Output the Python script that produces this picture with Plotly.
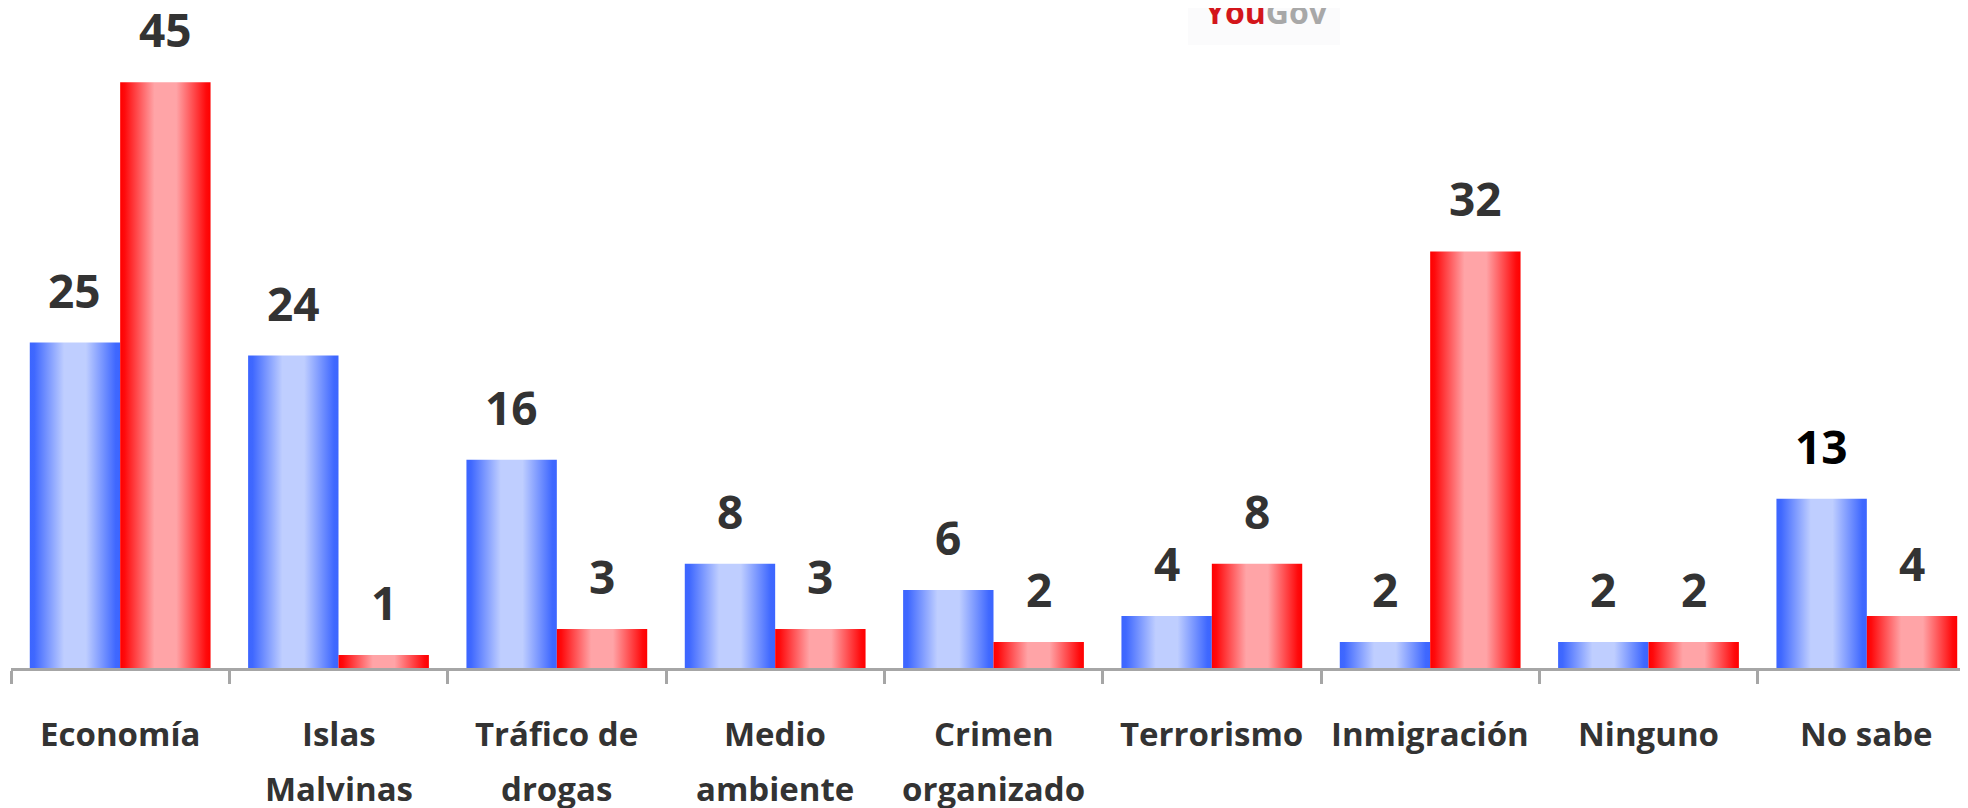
import plotly.graph_objects as go

# categorias y valores (%)
categorias = ["Economía", "Islas<br>Malvinas", "Tráfico de<br>drogas", "Medio<br>ambiente",
              "Crimen<br>organizado", "Terrorismo", "Inmigración", "Ninguno", "No sabe"]
argentina = [25, 24, 16, 8, 6, 4, 2, 2, 13]
reino_unido = [45, 1, 3, 3, 2, 8, 32, 2, 4]

ancho = 0.414  # ancho de cada barra (unidades de categoria)

azul = [[0, "#3c65ff"], [0.05, "#3f68ff"], [0.38, "#bfceff"], [0.62, "#bfceff"], [0.95, "#3f68ff"], [1, "#3c65ff"]]
rojo = [[0, "#ff0000"], [0.05, "#ff0a0c"], [0.38, "#ffa4a7"], [0.62, "#ffa4a7"], [0.95, "#ff0a0c"], [1, "#ff0000"]]

fig = go.Figure()

series = [(argentina, azul, -1), (reino_unido, rojo, 0)]
for s, (valores, escala, lado) in enumerate(series):
    for i, v in enumerate(valores):
        x0 = i + lado * ancho
        x1 = x0 + ancho
        fig.add_trace(go.Scatter(
            x=[x0, x0, x1, x1, x0], y=[0, v, v, 0, 0],
            mode="lines", fill="toself", line=dict(width=0),
            fillgradient=dict(type="horizontal", colorscale=escala, start=x0, stop=x1),
            hoverinfo="skip", showlegend=False,
        ))
        # etiqueta de valor
        color = "#000000" if (s == 0 and i == 8) else "#333333"
        fig.add_annotation(
            x=(x0 + x1) / 2, y=v, xref="x", yref="y", text=str(v), showarrow=False,
            yanchor="bottom", yshift=20,
            font=dict(family="Open Sans", size=46, color=color, weight="bold"),
        )

# etiquetas de categoria (una anotacion por linea para controlar el interlineado)
for i, cat in enumerate(categorias):
    for j, linea in enumerate(cat.split("<br>")):
        fig.add_annotation(
            x=i, y=0, xref="x", yref="paper", text=linea, showarrow=False,
            yanchor="top", yshift=-41 - 55 * j,
            font=dict(family="Open Sans", size=33, color="#333333", weight="bold"),
        )

# logo YouGov (recortado arriba)
ancho_plot, alto_plot = 1965, 660
fig.add_shape(type="rect", xref="paper", yref="paper",
              x0=(1188 - 11) / ancho_plot, x1=(1340 - 11) / ancho_plot,
              y0=1, y1=1 - 37 / alto_plot, fillcolor="#fbfbfc", line=dict(width=0), layer="below")
fig.add_annotation(
    x=(1266 - 11) / ancho_plot, y=1, xref="paper", yref="paper", showarrow=False,
    text="<span style='color:#d3151b'>You</span><span style='color:#a8a8a8'>Gov</span>",
    yanchor="bottom", yshift=-27,
    font=dict(family="Open Sans", size=32, weight="bold"),
)

fig.update_layout(
    width=1968, height=808,
    margin={"r": 0, "t": 0, "l": 3, "b": 148},
    plot_bgcolor="white", paper_bgcolor="white",
    xaxis=dict(
        range=[-0.5, 8.5], showgrid=False, zeroline=False,
        showline=True, linecolor="#a6a6a6", linewidth=3,
        tickvals=[i - 0.5 for i in range(len(categorias) + 1)],
        ticks="outside", ticklen=13, tickwidth=2.5, tickcolor="#a6a6a6",
        showticklabels=False,
    ),
    yaxis=dict(range=[0, 50.7], visible=False),
)

fig.write_html("out.html")
